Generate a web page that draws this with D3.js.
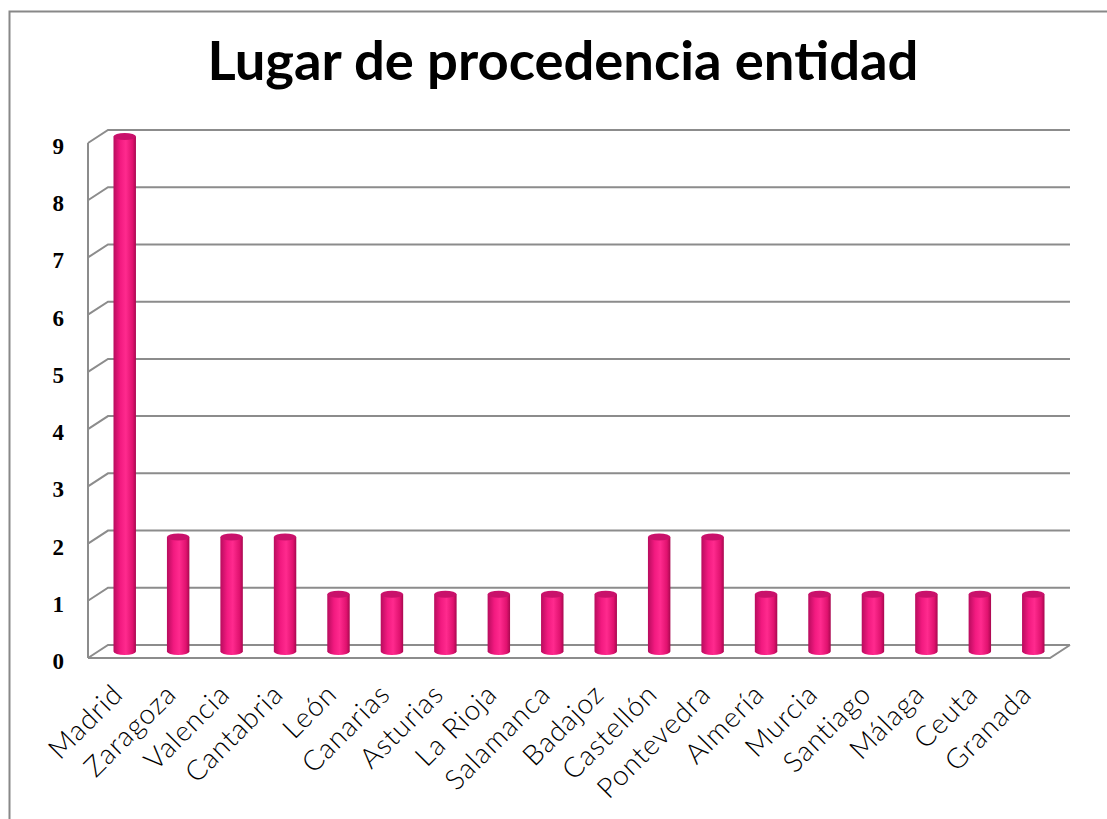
<!DOCTYPE html>
<html>
<head>
<meta charset="utf-8">
<script src="https://cdn.jsdelivr.net/npm/d3@7"></script>
<style>
  body { margin: 0; background: #fff; }
  svg { display: block; }
</style>
</head>
<body>
<div id="chart"></div>
<script>
const categories = ["Madrid", "Zaragoza", "Valencia", "Cantabria", "León", "Canarias", "Asturias",
    "La Rioja", "Salamanca", "Badajoz", "Castellón", "Pontevedra", "Almería", "Murcia",
    "Santiago", "Málaga", "Ceuta", "Granada"];
const values = [9, 2, 2, 2, 1, 1, 1, 1, 1, 1, 2, 2, 1, 1, 1, 1, 1, 1];
const yTicks = [0, 1, 2, 3, 4, 5, 6, 7, 8, 9];
const title = "Lugar de procedencia entidad";

const width = 1107;
const height = 819;
const depth = { dx: 20, dy: 13 }; // 3d offset, front -> back

const svg = d3.select("#chart")
    .append("svg")
    .attr("width", width)
    .attr("height", height);

// outer frame
svg.append("path")
    .attr("d", `M9.5,${height} V11.5 H${width}`)
    .attr("fill", "none")
    .attr("stroke", "#888")
    .attr("stroke-width", 2);

// title
const t = svg.append("text")
    .attr("x", 563)
    .attr("y", 80)
    .attr("text-anchor", "middle")
    .attr("font-family", "Lato, 'Open Sans', sans-serif")
    .attr("font-weight", "bold")
    .attr("font-size", 48)
    .attr("fill", "#000")
    .text(title);
const tw = t.node().getComputedTextLength();
t.attr("font-size", 48 * 711 / tw);

// back wall coordinates
const y = d3.scaleLinear().domain([0, 9]).range([645, 130]);
const backLeft = 108, backRight = 1070;

const x = d3.scaleBand()
    .domain(categories)
    .range([backLeft - depth.dx / 2, backRight - depth.dx / 2])
    .paddingInner(0.58)
    .paddingOuter(0.29);

const grid = svg.append("g")
    .attr("stroke", "#8c8c8c")
    .attr("stroke-width", 2)
    .attr("fill", "none");

// back wall gridlines + left wall diagonals
yTicks.forEach(v => {
    grid.append("path")
        .attr("d", `M${backLeft - depth.dx},${y(v) + depth.dy} L${backLeft},${y(v)} H${backRight}`);
});
// left vertical axis (front edge)
grid.append("line")
    .attr("x1", backLeft - depth.dx).attr("x2", backLeft - depth.dx)
    .attr("y1", y(9) + depth.dy).attr("y2", y(0) + depth.dy);
// floor front edge
grid.append("path")
    .attr("d", `M${backLeft - depth.dx},${y(0) + depth.dy} H${backRight - depth.dx} L${backRight},${y(0)}`);

// y tick labels
svg.append("g")
    .selectAll("text")
    .data(yTicks)
    .join("text")
    .attr("x", 64)
    .attr("y", d => y(d) + depth.dy + 3)
    .attr("dy", "0.35em")
    .attr("text-anchor", "end")
    .attr("font-family", "'Liberation Serif', serif")
    .attr("font-weight", "bold")
    .attr("font-size", 23)
    .text(d => d);

// cylinder gradient
const defs = svg.append("defs");
const grad = defs.append("linearGradient").attr("id", "cyl").attr("x1", 0).attr("x2", 1).attr("y1", 0).attr("y2", 0);
[["0%", "#b80c5e"], ["30%", "#f21a80"], ["55%", "#ff2a8e"], ["85%", "#e0126f"], ["100%", "#a8084f"]]
    .forEach(([o, c]) => grad.append("stop").attr("offset", o).attr("stop-color", c));

const bars = svg.append("g")
    .selectAll("g")
    .data(categories.map((c, i) => ({ name: c, value: values[i] })))
    .join("g");

const bw = x.bandwidth();
const ry = 3.5;
const yb = v => y(v) + depth.dy / 2;

bars.append("path")
    .attr("d", d => {
        const x0 = x(d.name), x1 = x0 + bw;
        return `M${x0},${yb(d.value)} V${yb(0)} A${bw / 2},${ry} 0 0 0 ${x1},${yb(0)} V${yb(d.value)} Z`;
    })
    .attr("fill", "url(#cyl)");

bars.append("ellipse")
    .attr("cx", d => x(d.name) + bw / 2)
    .attr("cy", d => yb(d.value))
    .attr("rx", bw / 2)
    .attr("ry", ry)
    .attr("fill", "#c9116b");

// category labels
svg.append("g")
    .selectAll("text")
    .data(categories)
    .join("text")
    .attr("transform", d => `translate(${x(d) + bw / 2},${696}) rotate(-45)`)
    .attr("text-anchor", "end")
    .attr("font-family", "Lato, 'Open Sans', sans-serif")
    .attr("font-weight", 300)
    .attr("font-size", 28)
    .attr("letter-spacing", 1)
    .attr("fill", "#000")
    .text(d => d);
</script>
</body>
</html>
